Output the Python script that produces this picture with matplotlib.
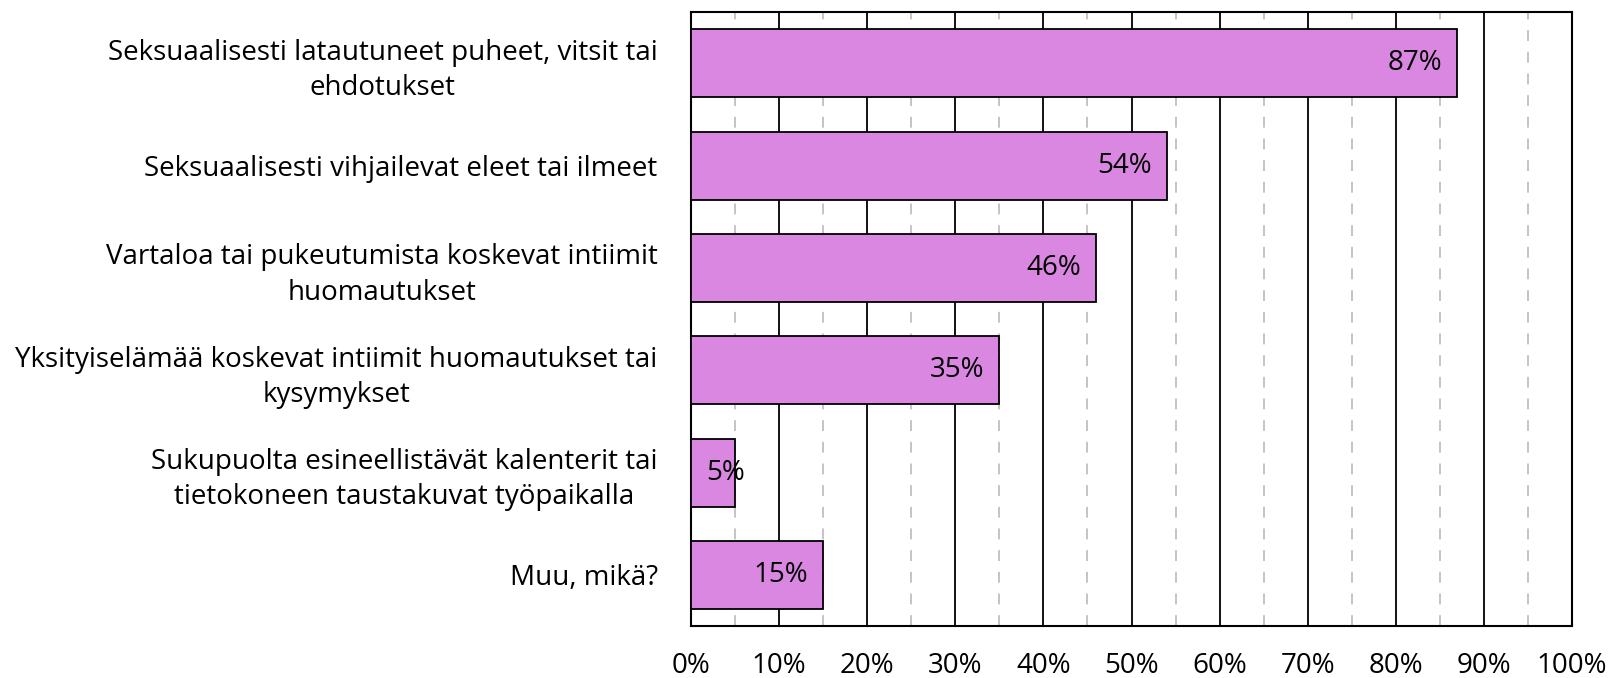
import matplotlib
matplotlib.use("Agg")
import matplotlib.pyplot as plt
from matplotlib.ticker import MultipleLocator, FuncFormatter

categories = [
    "Seksuaalisesti latautuneet puheet, vitsit tai\nehdotukset",
    "Seksuaalisesti vihjailevat eleet tai ilmeet",
    "Vartaloa tai pukeutumista koskevat intiimit\nhuomautukset",
    "Yksityiselämää koskevat intiimit huomautukset tai\nkysymykset",
    "Sukupuolta esineellistävät kalenterit tai\ntietokoneen taustakuvat työpaikalla",
    "Muu, mikä?",
]
values = [87, 54, 46, 35, 5, 15]

plt.rcParams['font.family'] = ['Open Sans', 'DejaVu Sans']
fs = 20

fig = plt.figure(figsize=(16.09, 6.78), dpi=100)
ax = fig.add_axes([0.4295, 0.0767, 0.977 - 0.4295, 0.982 - 0.0767])

y = list(range(len(categories)))
bars = ax.barh(y, values, height=0.665, color="#DA87E2", edgecolor="black",
               linewidth=1.3, zorder=3)

ax.set_xlim(0, 100)
ax.set_ylim(len(categories) - 0.5, -0.5)
ax.set_yticks(y)
ax.set_yticklabels(categories, fontsize=fs, ha="right", multialignment="center",
                   linespacing=1.35)
ax.xaxis.set_major_locator(MultipleLocator(10))
ax.xaxis.set_minor_locator(MultipleLocator(5))
ax.xaxis.set_major_formatter(FuncFormatter(lambda v, p: f"{v:.0f}%"))
ax.tick_params(axis="x", labelsize=fs, length=0, pad=19, which="both")
ax.tick_params(axis="y", length=0, pad=24)

ax.grid(True, axis="x", which="major", color="black", linewidth=1.3, zorder=0)
ax.grid(True, axis="x", which="minor", color="#BFBFBF", linewidth=1.3,
        linestyle=(0, (6, 6)), zorder=0)
ax.set_axisbelow(True)
for s in ax.spines.values():
    s.set_linewidth(1.5)
    s.set_color("black")

for b, v in zip(bars, values):
    cy = b.get_y() + b.get_height() / 2
    if v >= 10:
        ax.annotate(f"{v}%", (v, cy), xytext=(-11, 0), textcoords="offset points",
                    ha="right", va="center", fontsize=fs, zorder=4)
    else:
        ax.annotate(f"{v}%", (0, cy), xytext=(11, 0), textcoords="offset points",
                    ha="left", va="center", fontsize=fs, zorder=4)

fig.savefig("out.png", dpi=100)
